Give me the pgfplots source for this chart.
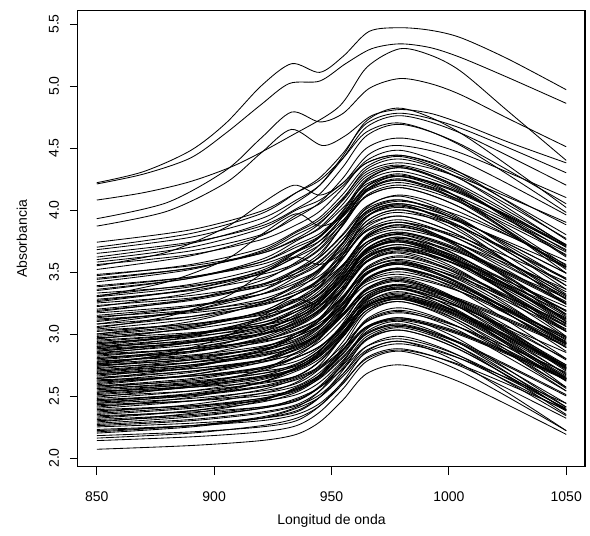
\documentclass[border=0pt]{standalone}
\usepackage{fontspec}
\setmainfont{Liberation Sans}
\usepackage{pgfplots}
\pgfplotsset{compat=1.18}
\begin{document}
\begin{tikzpicture}[sp/.style={black, line width=0.85pt, smooth}]
\useasboundingbox (-78pt,-69pt) rectangle (512pt,467pt);
\begin{axis}[
  at={(0pt,0pt)}, anchor=south west,
  scale only axis, width=507pt, height=456pt,
  xmin=842, xmax=1058, ymin=1.927, ymax=5.605,
  axis lines=box,
  axis line style={line width=1pt, black},
  tick align=outside, xtick pos=bottom, ytick pos=left,
  major tick length=8pt,
  every tick/.style={black, line width=0.8pt},
  xtick={850,900,950,1000,1050},
  ytick={2,2.5,3,3.5,4,4.5,5,5.5},
  /pgf/number format/assume math mode=true,
  xticklabel style={anchor=center, font=\fontsize{14}{16}\selectfont,
    /pgf/number format/1000 sep={}},
  yticklabel style={rotate=90, anchor=center, font=\fontsize{14}{16}\selectfont,
    /pgf/number format/.cd, fixed, fixed zerofill, precision=1},
  xticklabel shift=22pt,
  yticklabel shift=16pt,
  xlabel={Longitud de onda},
  ylabel={Absorbancia},
  xlabel style={at={(axis description cs:0.5,-0.1184)}, anchor=center, font=\fontsize{14}{16}\selectfont},
  ylabel style={at={(axis description cs:-0.1105,0.5)}, anchor=center, font=\fontsize{14}{16}\selectfont},
]
% upper curves with the 930 nm shoulder
\addplot[sp] coordinates {(850,4.22)(870,4.31)(890,4.48)(905,4.70)(920,5.00)(933,5.18)(945,5.11)(955,5.24)(966,5.44)(979,5.47)(992,5.45)(1005,5.39)(1025,5.22)(1050,4.97)};
\addplot[sp] coordinates {(850,4.21)(870,4.29)(890,4.42)(905,4.62)(920,4.85)(932,5.02)(945,5.04)(956,5.18)(967,5.30)(979,5.34)(992,5.31)(1005,5.23)(1025,5.07)(1050,4.86)};
\addplot[sp] coordinates {(850,4.08)(870,4.14)(890,4.23)(910,4.37)(932,4.59)(953,4.83)(965,5.15)(979,5.30)(992,5.25)(1005,5.12)(1025,4.80)(1050,4.40)};
\addplot[sp] coordinates {(850,3.93)(880,4.06)(905,4.32)(920,4.58)(933,4.79)(945,4.71)(955,4.78)(966,4.98)(979,5.06)(992,5.02)(1005,4.93)(1025,4.74)(1050,4.51)};
\addplot[sp] coordinates {(850,3.87)(880,3.99)(905,4.22)(920,4.46)(933,4.65)(946,4.52)(956,4.60)(967,4.76)(979,4.81)(992,4.78)(1005,4.70)(1025,4.55)(1050,4.38)};
\addplot[sp] coordinates {(850,3.55)(880,3.66)(905,3.86)(920,4.05)(934,4.20)(945,4.12)(955,4.22)(966,4.45)(979,4.52)(1005,4.40)(1050,3.96)};
\addplot[sp] coordinates {(850,3.30)(880,3.42)(905,3.60)(920,3.80)(935,3.97)(945,3.87)(955,3.95)(966,4.18)(979,4.27)(1005,4.14)(1050,3.70)};
\addplot[sp] coordinates {(850,3.05)(880,3.14)(905,3.30)(920,3.48)(934,3.62)(945,3.56)(955,3.66)(966,3.90)(979,3.98)(1005,3.86)(1050,3.45)};
\addplot[sp] coordinates {(850,2.75)(880,2.84)(905,2.98)(920,3.14)(934,3.28)(945,3.24)(955,3.36)(966,3.60)(979,3.68)(1005,3.55)(1050,3.12)};
% the main body of spectra
\addplot[sp] coordinates {(850,2.07)(890,2.10)(920,2.14)(935,2.19)(945,2.29)(955,2.47)(965,2.68)(980,2.75)(1005,2.61)(1050,2.19)};
\addplot[sp] coordinates {(850,2.14)(890,2.17)(920,2.21)(935,2.26)(945,2.37)(955,2.56)(965,2.78)(980,2.86)(1005,2.70)(1050,2.22)};
\addplot[sp] coordinates {(850,2.16)(890,2.20)(920,2.26)(935,2.32)(945,2.42)(955,2.60)(965,2.81)(980,2.88)(1005,2.74)(1050,2.32)};
\addplot[sp] coordinates {(850,2.18)(890,2.21)(920,2.25)(935,2.30)(945,2.42)(955,2.62)(965,2.86)(980,2.94)(1005,2.76)(1050,2.22)};
\addplot[sp] coordinates {(850,2.20)(890,2.25)(920,2.32)(935,2.40)(945,2.49)(955,2.66)(965,2.85)(980,2.92)(1005,2.80)(1050,2.44)};
\addplot[sp] coordinates {(850,2.21)(890,2.26)(920,2.33)(935,2.41)(945,2.54)(955,2.77)(965,3.04)(980,3.13)(1005,2.95)(1050,2.41)};
\addplot[sp] coordinates {(850,2.22)(890,2.26)(920,2.32)(935,2.38)(945,2.49)(955,2.68)(965,2.90)(980,2.98)(1005,2.82)(1050,2.34)};
\addplot[sp] coordinates {(850,2.23)(890,2.26)(920,2.30)(935,2.35)(945,2.44)(955,2.61)(965,2.80)(980,2.87)(1005,2.75)(1050,2.39)};
\addplot[sp] coordinates {(850,2.25)(890,2.28)(920,2.32)(935,2.37)(945,2.49)(955,2.71)(965,2.96)(980,3.05)(1005,2.89)(1050,2.41)};
\addplot[sp] coordinates {(850,2.26)(890,2.30)(920,2.36)(935,2.42)(945,2.51)(955,2.68)(965,2.87)(980,2.94)(1005,2.80)(1050,2.38)};
\addplot[sp] coordinates {(850,2.27)(890,2.31)(920,2.37)(935,2.43)(945,2.54)(955,2.73)(965,2.95)(980,3.03)(1005,2.87)(1050,2.39)};
\addplot[sp] coordinates {(850,2.28)(890,2.33)(920,2.40)(935,2.48)(945,2.57)(955,2.72)(965,2.90)(980,2.96)(1005,2.82)(1050,2.40)};
\addplot[sp] coordinates {(850,2.29)(890,2.36)(920,2.46)(935,2.57)(945,2.67)(955,2.85)(965,3.06)(980,3.13)(1005,3.01)(1050,2.65)};
\addplot[sp] coordinates {(850,2.30)(890,2.34)(920,2.40)(935,2.46)(945,2.58)(955,2.78)(965,3.02)(980,3.10)(1005,2.92)(1050,2.38)};
\addplot[sp] coordinates {(850,2.31)(890,2.35)(920,2.41)(935,2.47)(945,2.57)(955,2.75)(965,2.96)(980,3.03)(1005,2.87)(1050,2.39)};
\addplot[sp] coordinates {(850,2.32)(890,2.38)(920,2.47)(935,2.56)(945,2.66)(955,2.84)(965,3.05)(980,3.12)(1005,3.00)(1050,2.64)};
\addplot[sp] coordinates {(850,2.33)(890,2.38)(920,2.45)(935,2.53)(945,2.65)(955,2.87)(965,3.12)(980,3.21)(1005,3.05)(1050,2.57)};
\addplot[sp] coordinates {(850,2.34)(890,2.37)(920,2.41)(935,2.46)(945,2.57)(955,2.76)(965,2.98)(980,3.06)(1005,2.92)(1050,2.50)};
\addplot[sp] coordinates {(850,2.35)(890,2.40)(920,2.47)(935,2.55)(945,2.67)(955,2.87)(965,3.11)(980,3.19)(1005,3.05)(1050,2.63)};
\addplot[sp] coordinates {(850,2.36)(890,2.41)(920,2.48)(935,2.56)(945,2.65)(955,2.82)(965,3.01)(980,3.08)(1005,2.92)(1050,2.44)};
\addplot[sp] coordinates {(850,2.37)(890,2.43)(920,2.52)(935,2.61)(945,2.75)(955,2.99)(965,3.27)(980,3.37)(1005,3.21)(1050,2.73)};
\addplot[sp] coordinates {(850,2.38)(890,2.42)(920,2.48)(935,2.54)(945,2.67)(955,2.90)(965,3.17)(980,3.26)(1005,3.08)(1050,2.54)};
\addplot[sp] coordinates {(850,2.39)(890,2.42)(920,2.46)(935,2.51)(945,2.61)(955,2.79)(965,3.00)(980,3.07)(1005,2.89)(1050,2.35)};
\addplot[sp] coordinates {(850,2.40)(890,2.46)(920,2.55)(935,2.64)(945,2.73)(955,2.88)(965,3.06)(980,3.12)(1005,3.00)(1050,2.64)};
\addplot[sp] coordinates {(850,2.41)(890,2.49)(920,2.61)(935,2.73)(945,2.85)(955,3.05)(965,3.29)(980,3.37)(1005,3.17)(1050,2.57)};
\addplot[sp] coordinates {(850,2.42)(890,2.46)(920,2.52)(935,2.58)(945,2.69)(955,2.88)(965,3.10)(980,3.18)(1005,3.02)(1050,2.54)};
\addplot[sp] coordinates {(850,2.43)(890,2.46)(920,2.50)(935,2.55)(945,2.64)(955,2.81)(965,3.00)(980,3.07)(1005,2.93)(1050,2.51)};
\addplot[sp] coordinates {(850,2.44)(890,2.51)(920,2.61)(935,2.72)(945,2.82)(955,3.00)(965,3.21)(980,3.28)(1005,3.10)(1050,2.56)};
\addplot[sp] coordinates {(850,2.44)(890,2.48)(920,2.54)(935,2.60)(945,2.72)(955,2.94)(965,3.19)(980,3.28)(1005,3.12)(1050,2.64)};
\addplot[sp] coordinates {(850,2.45)(890,2.50)(920,2.57)(935,2.65)(945,2.74)(955,2.91)(965,3.10)(980,3.17)(1005,3.05)(1050,2.69)};
\addplot[sp] coordinates {(850,2.46)(890,2.51)(920,2.58)(935,2.66)(945,2.78)(955,2.98)(965,3.22)(980,3.30)(1005,3.16)(1050,2.74)};
\addplot[sp] coordinates {(850,2.46)(890,2.52)(920,2.61)(935,2.70)(945,2.80)(955,2.98)(965,3.19)(980,3.26)(1005,3.10)(1050,2.62)};
\addplot[sp] coordinates {(850,2.47)(890,2.51)(920,2.57)(935,2.63)(945,2.72)(955,2.87)(965,3.05)(980,3.11)(1005,2.99)(1050,2.63)};
\addplot[sp] coordinates {(850,2.48)(890,2.54)(920,2.63)(935,2.72)(945,2.83)(955,3.02)(965,3.24)(980,3.32)(1005,3.16)(1050,2.68)};
\addplot[sp] coordinates {(850,2.49)(890,2.58)(920,2.71)(935,2.85)(945,2.97)(955,3.19)(965,3.44)(980,3.53)(1005,3.39)(1050,2.97)};
\addplot[sp] coordinates {(850,2.50)(890,2.54)(920,2.60)(935,2.66)(945,2.78)(955,3.00)(965,3.25)(980,3.34)(1005,3.16)(1050,2.62)};
\addplot[sp] coordinates {(850,2.51)(890,2.57)(920,2.66)(935,2.75)(945,2.87)(955,3.07)(965,3.31)(980,3.39)(1005,3.21)(1050,2.67)};
\addplot[sp] coordinates {(850,2.52)(890,2.57)(920,2.64)(935,2.72)(945,2.82)(955,3.00)(965,3.21)(980,3.28)(1005,3.14)(1050,2.72)};
\addplot[sp] coordinates {(850,2.53)(890,2.60)(920,2.70)(935,2.81)(945,2.90)(955,3.05)(965,3.23)(980,3.29)(1005,3.13)(1050,2.65)};
\addplot[sp] coordinates {(850,2.53)(890,2.58)(920,2.65)(935,2.73)(945,2.86)(955,3.09)(965,3.36)(980,3.45)(1005,3.27)(1050,2.73)};
\addplot[sp] coordinates {(850,2.54)(890,2.57)(920,2.61)(935,2.66)(945,2.78)(955,2.98)(965,3.22)(980,3.30)(1005,3.16)(1050,2.74)};
\addplot[sp] coordinates {(850,2.55)(890,2.59)(920,2.65)(935,2.71)(945,2.82)(955,3.01)(965,3.23)(980,3.31)(1005,3.17)(1050,2.75)};
\addplot[sp] coordinates {(850,2.56)(890,2.61)(920,2.68)(935,2.76)(945,2.87)(955,3.06)(965,3.28)(980,3.36)(1005,3.18)(1050,2.64)};
\addplot[sp] coordinates {(850,2.56)(890,2.60)(920,2.66)(935,2.72)(945,2.84)(955,3.04)(965,3.28)(980,3.36)(1005,3.22)(1050,2.80)};
\addplot[sp] coordinates {(850,2.57)(890,2.63)(920,2.72)(935,2.81)(945,2.90)(955,3.07)(965,3.26)(980,3.33)(1005,3.21)(1050,2.85)};
\addplot[sp] coordinates {(850,2.58)(890,2.62)(920,2.68)(935,2.74)(945,2.84)(955,3.02)(965,3.23)(980,3.30)(1005,3.14)(1050,2.66)};
\addplot[sp] coordinates {(850,2.58)(890,2.64)(920,2.73)(935,2.82)(945,2.96)(955,3.20)(965,3.48)(980,3.58)(1005,3.40)(1050,2.86)};
\addplot[sp] coordinates {(850,2.59)(890,2.67)(920,2.79)(935,2.91)(945,3.00)(955,3.15)(965,3.33)(980,3.39)(1005,3.23)(1050,2.75)};
\addplot[sp] coordinates {(850,2.60)(890,2.67)(920,2.77)(935,2.88)(945,3.00)(955,3.20)(965,3.44)(980,3.52)(1005,3.38)(1050,2.96)};
\addplot[sp] coordinates {(850,2.61)(890,2.66)(920,2.73)(935,2.81)(945,2.90)(955,3.05)(965,3.23)(980,3.29)(1005,3.15)(1050,2.73)};
\addplot[sp] coordinates {(850,2.62)(890,2.66)(920,2.72)(935,2.78)(945,2.89)(955,3.08)(965,3.30)(980,3.38)(1005,3.26)(1050,2.90)};
\addplot[sp] coordinates {(850,2.62)(890,2.69)(920,2.79)(935,2.90)(945,3.02)(955,3.24)(965,3.49)(980,3.58)(1005,3.44)(1050,3.02)};
\addplot[sp] coordinates {(850,2.63)(890,2.66)(920,2.70)(935,2.75)(945,2.87)(955,3.07)(965,3.31)(980,3.39)(1005,3.27)(1050,2.91)};
\addplot[sp] coordinates {(850,2.64)(890,2.70)(920,2.79)(935,2.88)(945,2.98)(955,3.16)(965,3.37)(980,3.44)(1005,3.26)(1050,2.72)};
\addplot[sp] coordinates {(850,2.64)(890,2.73)(920,2.86)(935,3.00)(945,3.13)(955,3.36)(965,3.63)(980,3.72)(1005,3.56)(1050,3.08)};
\addplot[sp] coordinates {(850,2.65)(890,2.70)(920,2.77)(935,2.85)(945,2.97)(955,3.19)(965,3.44)(980,3.53)(1005,3.37)(1050,2.89)};
\addplot[sp] coordinates {(850,2.66)(890,2.74)(920,2.86)(935,2.98)(945,3.07)(955,3.24)(965,3.43)(980,3.50)(1005,3.36)(1050,2.94)};
\addplot[sp] coordinates {(850,2.67)(890,2.72)(920,2.79)(935,2.87)(945,2.97)(955,3.15)(965,3.36)(980,3.43)(1005,3.27)(1050,2.79)};
\addplot[sp] coordinates {(850,2.68)(890,2.72)(920,2.78)(935,2.84)(945,2.94)(955,3.12)(965,3.33)(980,3.40)(1005,3.28)(1050,2.92)};
\addplot[sp] coordinates {(850,2.68)(890,2.74)(920,2.83)(935,2.92)(945,3.03)(955,3.22)(965,3.44)(980,3.52)(1005,3.34)(1050,2.80)};
\addplot[sp] coordinates {(850,2.69)(890,2.75)(920,2.84)(935,2.93)(945,3.05)(955,3.25)(965,3.49)(980,3.57)(1005,3.41)(1050,2.93)};
\addplot[sp] coordinates {(850,2.70)(890,2.75)(920,2.82)(935,2.90)(945,2.99)(955,3.16)(965,3.35)(980,3.42)(1005,3.24)(1050,2.70)};
\addplot[sp] coordinates {(850,2.70)(890,2.77)(920,2.87)(935,2.98)(945,3.12)(955,3.38)(965,3.68)(980,3.78)(1005,3.58)(1050,2.98)};
\addplot[sp] coordinates {(850,2.71)(890,2.77)(920,2.86)(935,2.95)(945,3.07)(955,3.29)(965,3.54)(980,3.63)(1005,3.49)(1050,3.07)};
\addplot[sp] coordinates {(850,2.72)(890,2.79)(920,2.89)(935,3.00)(945,3.11)(955,3.30)(965,3.52)(980,3.60)(1005,3.46)(1050,3.04)};
\addplot[sp] coordinates {(850,2.73)(890,2.77)(920,2.83)(935,2.89)(945,3.01)(955,3.21)(965,3.45)(980,3.53)(1005,3.37)(1050,2.89)};
\addplot[sp] coordinates {(850,2.74)(890,2.80)(920,2.89)(935,2.98)(945,3.07)(955,3.22)(965,3.40)(980,3.46)(1005,3.34)(1050,2.98)};
\addplot[sp] coordinates {(850,2.74)(890,2.82)(920,2.94)(935,3.06)(945,3.19)(955,3.42)(965,3.69)(980,3.78)(1005,3.62)(1050,3.14)};
\addplot[sp] coordinates {(850,2.75)(890,2.79)(920,2.85)(935,2.91)(945,3.00)(955,3.17)(965,3.36)(980,3.43)(1005,3.25)(1050,2.71)};
\addplot[sp] coordinates {(850,2.76)(890,2.81)(920,2.88)(935,2.96)(945,3.07)(955,3.26)(965,3.48)(980,3.56)(1005,3.40)(1050,2.92)};
\addplot[sp] coordinates {(850,2.76)(890,2.86)(920,3.01)(935,3.16)(945,3.28)(955,3.48)(965,3.72)(980,3.80)(1005,3.66)(1050,3.24)};
\addplot[sp] coordinates {(850,2.77)(890,2.85)(920,2.97)(935,3.09)(945,3.19)(955,3.37)(965,3.58)(980,3.65)(1005,3.47)(1050,2.93)};
\addplot[sp] coordinates {(850,2.78)(890,2.82)(920,2.88)(935,2.94)(945,3.06)(955,3.28)(965,3.53)(980,3.62)(1005,3.48)(1050,3.06)};
\addplot[sp] coordinates {(850,2.78)(890,2.83)(920,2.90)(935,2.98)(945,3.11)(955,3.34)(965,3.61)(980,3.70)(1005,3.54)(1050,3.06)};
\addplot[sp] coordinates {(850,2.79)(890,2.86)(920,2.96)(935,3.07)(945,3.18)(955,3.37)(965,3.59)(980,3.67)(1005,3.55)(1050,3.19)};
\addplot[sp] coordinates {(850,2.80)(890,2.86)(920,2.95)(935,3.04)(945,3.13)(955,3.30)(965,3.49)(980,3.56)(1005,3.40)(1050,2.92)};
\addplot[sp] coordinates {(850,2.80)(890,2.88)(920,3.00)(935,3.12)(945,3.26)(955,3.50)(965,3.78)(980,3.88)(1005,3.70)(1050,3.16)};
\addplot[sp] coordinates {(850,2.81)(890,2.86)(920,2.93)(935,3.01)(945,3.11)(955,3.29)(965,3.50)(980,3.57)(1005,3.45)(1050,3.09)};
\addplot[sp] coordinates {(850,2.82)(890,2.89)(920,2.99)(935,3.10)(945,3.22)(955,3.42)(965,3.66)(980,3.74)(1005,3.56)(1050,3.02)};
\addplot[sp] coordinates {(850,2.83)(890,2.88)(920,2.95)(935,3.03)(945,3.13)(955,3.31)(965,3.52)(980,3.59)(1005,3.43)(1050,2.95)};
\addplot[sp] coordinates {(850,2.84)(890,2.88)(920,2.94)(935,3.00)(945,3.09)(955,3.24)(965,3.42)(980,3.48)(1005,3.34)(1050,2.92)};
\addplot[sp] coordinates {(850,2.84)(890,2.93)(920,3.06)(935,3.20)(945,3.32)(955,3.54)(965,3.79)(980,3.88)(1005,3.72)(1050,3.24)};
\addplot[sp] coordinates {(850,2.85)(890,2.91)(920,3.00)(935,3.09)(945,3.20)(955,3.39)(965,3.61)(980,3.69)(1005,3.55)(1050,3.13)};
\addplot[sp] coordinates {(850,2.86)(890,2.94)(920,3.06)(935,3.18)(945,3.27)(955,3.44)(965,3.63)(980,3.70)(1005,3.58)(1050,3.22)};
\addplot[sp] coordinates {(850,2.86)(890,2.93)(920,3.03)(935,3.14)(945,3.28)(955,3.52)(965,3.80)(980,3.90)(1005,3.70)(1050,3.10)};
\addplot[sp] coordinates {(850,2.87)(890,2.93)(920,3.02)(935,3.11)(945,3.23)(955,3.43)(965,3.67)(980,3.75)(1005,3.61)(1050,3.19)};
\addplot[sp] coordinates {(850,2.88)(890,2.93)(920,3.00)(935,3.08)(945,3.20)(955,3.42)(965,3.67)(980,3.76)(1005,3.60)(1050,3.12)};
\addplot[sp] coordinates {(850,2.88)(890,2.98)(920,3.13)(935,3.28)(945,3.41)(955,3.64)(965,3.91)(980,4.00)(1005,3.86)(1050,3.44)};
\addplot[sp] coordinates {(850,2.89)(890,2.95)(920,3.04)(935,3.13)(945,3.23)(955,3.41)(965,3.62)(980,3.69)(1005,3.51)(1050,2.97)};
\addplot[sp] coordinates {(850,2.90)(890,2.94)(920,3.00)(935,3.06)(945,3.17)(955,3.36)(965,3.58)(980,3.66)(1005,3.50)(1050,3.02)};
\addplot[sp] coordinates {(850,2.90)(890,2.97)(920,3.07)(935,3.18)(945,3.30)(955,3.50)(965,3.74)(980,3.82)(1005,3.68)(1050,3.26)};
\addplot[sp] coordinates {(850,2.91)(890,2.99)(920,3.11)(935,3.23)(945,3.32)(955,3.49)(965,3.68)(980,3.75)(1005,3.57)(1050,3.03)};
\addplot[sp] coordinates {(850,2.92)(890,2.99)(920,3.09)(935,3.20)(945,3.29)(955,3.46)(965,3.65)(980,3.72)(1005,3.58)(1050,3.16)};
\addplot[sp] coordinates {(850,2.92)(890,3.00)(920,3.12)(935,3.24)(945,3.38)(955,3.64)(965,3.94)(980,4.04)(1005,3.86)(1050,3.32)};
\addplot[sp] coordinates {(850,2.93)(890,2.98)(920,3.05)(935,3.13)(945,3.25)(955,3.45)(965,3.69)(980,3.77)(1005,3.65)(1050,3.29)};
\addplot[sp] coordinates {(850,2.94)(890,3.00)(920,3.09)(935,3.18)(945,3.28)(955,3.46)(965,3.67)(980,3.74)(1005,3.58)(1050,3.10)};
\addplot[sp] coordinates {(850,2.95)(890,3.00)(920,3.07)(935,3.15)(945,3.26)(955,3.45)(965,3.67)(980,3.75)(1005,3.59)(1050,3.11)};
\addplot[sp] coordinates {(850,2.96)(890,3.05)(920,3.18)(935,3.32)(945,3.41)(955,3.56)(965,3.74)(980,3.80)(1005,3.62)(1050,3.08)};
\addplot[sp] coordinates {(850,2.96)(890,3.05)(920,3.18)(935,3.32)(945,3.45)(955,3.68)(965,3.95)(980,4.04)(1005,3.84)(1050,3.24)};
\addplot[sp] coordinates {(850,2.97)(890,3.01)(920,3.07)(935,3.13)(945,3.25)(955,3.47)(965,3.72)(980,3.81)(1005,3.67)(1050,3.25)};
\addplot[sp] coordinates {(850,2.98)(890,3.04)(920,3.13)(935,3.22)(945,3.33)(955,3.52)(965,3.74)(980,3.82)(1005,3.66)(1050,3.18)};
\addplot[sp] coordinates {(850,2.99)(890,3.06)(920,3.16)(935,3.27)(945,3.39)(955,3.61)(965,3.86)(980,3.95)(1005,3.79)(1050,3.31)};
\addplot[sp] coordinates {(850,3.00)(890,3.07)(920,3.17)(935,3.28)(945,3.38)(955,3.56)(965,3.77)(980,3.84)(1005,3.72)(1050,3.36)};
\addplot[sp] coordinates {(850,3.00)(890,3.10)(920,3.25)(935,3.40)(945,3.52)(955,3.74)(965,3.99)(980,4.08)(1005,3.92)(1050,3.44)};
\addplot[sp] coordinates {(850,3.02)(890,3.08)(920,3.17)(935,3.26)(945,3.37)(955,3.56)(965,3.78)(980,3.86)(1005,3.72)(1050,3.30)};
\addplot[sp] coordinates {(850,3.03)(890,3.08)(920,3.15)(935,3.23)(945,3.35)(955,3.55)(965,3.79)(980,3.87)(1005,3.69)(1050,3.15)};
\addplot[sp] coordinates {(850,3.04)(890,3.12)(920,3.24)(935,3.36)(945,3.50)(955,3.74)(965,4.02)(980,4.12)(1005,3.98)(1050,3.56)};
\addplot[sp] coordinates {(850,3.06)(890,3.14)(920,3.26)(935,3.38)(945,3.47)(955,3.64)(965,3.83)(980,3.90)(1005,3.76)(1050,3.34)};
\addplot[sp] coordinates {(850,3.08)(890,3.14)(920,3.23)(935,3.32)(945,3.43)(955,3.62)(965,3.84)(980,3.92)(1005,3.76)(1050,3.28)};
\addplot[sp] coordinates {(850,3.08)(890,3.19)(920,3.35)(935,3.52)(945,3.65)(955,3.88)(965,4.15)(980,4.24)(1005,4.06)(1050,3.52)};
\addplot[sp] coordinates {(850,3.10)(890,3.19)(920,3.32)(935,3.46)(945,3.56)(955,3.74)(965,3.95)(980,4.02)(1005,3.90)(1050,3.54)};
\addplot[sp] coordinates {(850,3.11)(890,3.18)(920,3.28)(935,3.39)(945,3.51)(955,3.71)(965,3.95)(980,4.03)(1005,3.87)(1050,3.39)};
\addplot[sp] coordinates {(850,3.12)(890,3.17)(920,3.24)(935,3.32)(945,3.44)(955,3.66)(965,3.91)(980,4.00)(1005,3.82)(1050,3.28)};
\addplot[sp] coordinates {(850,3.13)(890,3.22)(920,3.35)(935,3.49)(945,3.63)(955,3.89)(965,4.19)(980,4.29)(1005,4.09)(1050,3.49)};
\addplot[sp] coordinates {(850,3.14)(890,3.19)(920,3.26)(935,3.34)(945,3.44)(955,3.62)(965,3.83)(980,3.90)(1005,3.78)(1050,3.42)};
\addplot[sp] coordinates {(850,3.15)(890,3.22)(920,3.32)(935,3.43)(945,3.52)(955,3.69)(965,3.88)(980,3.95)(1005,3.79)(1050,3.31)};
\addplot[sp] coordinates {(850,3.17)(890,3.23)(920,3.32)(935,3.41)(945,3.53)(955,3.73)(965,3.97)(980,4.05)(1005,3.91)(1050,3.49)};
\addplot[sp] coordinates {(850,3.18)(890,3.28)(920,3.43)(935,3.58)(945,3.72)(955,3.96)(965,4.24)(980,4.34)(1005,4.18)(1050,3.70)};
\addplot[sp] coordinates {(850,3.19)(890,3.27)(920,3.39)(935,3.51)(945,3.62)(955,3.81)(965,4.03)(980,4.11)(1005,3.93)(1050,3.39)};
\addplot[sp] coordinates {(850,3.20)(890,3.28)(920,3.40)(935,3.52)(945,3.62)(955,3.80)(965,4.01)(980,4.08)(1005,3.90)(1050,3.36)};
\addplot[sp] coordinates {(850,3.22)(890,3.33)(920,3.49)(935,3.66)(945,3.78)(955,4.00)(965,4.25)(980,4.34)(1005,4.16)(1050,3.62)};
\addplot[sp] coordinates {(850,3.23)(890,3.29)(920,3.38)(935,3.47)(945,3.58)(955,3.77)(965,3.99)(980,4.07)(1005,3.95)(1050,3.59)};
\addplot[sp] coordinates {(850,3.25)(890,3.31)(920,3.40)(935,3.49)(945,3.59)(955,3.77)(965,3.98)(980,4.05)(1005,3.91)(1050,3.49)};
\addplot[sp] coordinates {(850,3.26)(890,3.36)(920,3.51)(935,3.66)(945,3.75)(955,3.92)(965,4.11)(980,4.18)(1005,4.02)(1050,3.54)};
\addplot[sp] coordinates {(850,3.27)(890,3.36)(920,3.49)(935,3.63)(945,3.75)(955,3.95)(965,4.19)(980,4.27)(1005,4.13)(1050,3.71)};
\addplot[sp] coordinates {(850,3.28)(890,3.35)(920,3.45)(935,3.56)(945,3.68)(955,3.88)(965,4.12)(980,4.20)(1005,4.06)(1050,3.64)};
\addplot[sp] coordinates {(850,3.30)(890,3.38)(920,3.50)(935,3.62)(945,3.72)(955,3.90)(965,4.11)(980,4.18)(1005,4.02)(1050,3.54)};
\addplot[sp] coordinates {(850,3.31)(890,3.40)(920,3.53)(935,3.67)(945,3.79)(955,3.99)(965,4.23)(980,4.31)(1005,4.15)(1050,3.67)};
\addplot[sp] coordinates {(850,3.33)(890,3.39)(920,3.48)(935,3.57)(945,3.69)(955,3.91)(965,4.16)(980,4.25)(1005,4.07)(1050,3.53)};
\addplot[sp] coordinates {(850,3.35)(890,3.45)(920,3.60)(935,3.75)(945,3.86)(955,4.05)(965,4.27)(980,4.35)(1005,4.17)(1050,3.63)};
\addplot[sp] coordinates {(850,3.36)(890,3.45)(920,3.58)(935,3.72)(945,3.81)(955,3.98)(965,4.17)(980,4.24)(1005,4.10)(1050,3.68)};
\addplot[sp] coordinates {(850,3.38)(890,3.46)(920,3.58)(935,3.70)(945,3.79)(955,3.96)(965,4.15)(980,4.22)(1005,4.08)(1050,3.66)};
\addplot[sp] coordinates {(850,3.39)(890,3.46)(920,3.56)(935,3.67)(945,3.78)(955,3.97)(965,4.19)(980,4.27)(1005,4.09)(1050,3.55)};
\addplot[sp] coordinates {(850,3.42)(890,3.52)(920,3.67)(935,3.82)(945,3.92)(955,4.10)(965,4.31)(980,4.38)(1005,4.26)(1050,3.90)};
\addplot[sp] coordinates {(850,3.44)(890,3.53)(920,3.66)(935,3.80)(945,3.90)(955,4.08)(965,4.29)(980,4.36)(1005,4.20)(1050,3.72)};
\addplot[sp] coordinates {(850,3.45)(890,3.53)(920,3.65)(935,3.77)(945,3.89)(955,4.09)(965,4.33)(980,4.41)(1005,4.25)(1050,3.77)};
\addplot[sp] coordinates {(850,3.47)(890,3.56)(920,3.69)(935,3.83)(945,3.94)(955,4.13)(965,4.35)(980,4.43)(1005,4.25)(1050,3.71)};
\addplot[sp] coordinates {(850,3.48)(890,3.55)(920,3.65)(935,3.76)(945,3.85)(955,4.02)(965,4.21)(980,4.28)(1005,4.14)(1050,3.72)};
\addplot[sp] coordinates {(850,3.52)(890,3.63)(920,3.79)(935,3.96)(945,4.05)(955,4.20)(965,4.38)(980,4.44)(1005,4.28)(1050,3.80)};
\addplot[sp] coordinates {(850,3.56)(890,3.64)(920,3.76)(935,3.88)(945,3.99)(955,4.18)(965,4.40)(980,4.48)(1005,4.30)(1050,3.76)};
\addplot[sp] coordinates {(850,3.58)(890,3.67)(920,3.80)(935,3.94)(945,4.06)(955,4.26)(965,4.50)(980,4.58)(1005,4.46)(1050,4.10)};
\addplot[sp] coordinates {(850,3.60)(890,3.70)(920,3.85)(935,4.00)(945,4.08)(955,4.22)(965,4.38)(980,4.44)(1005,4.30)(1050,3.88)};
\addplot[sp] coordinates {(850,3.62)(890,3.73)(920,3.89)(935,4.06)(945,4.20)(955,4.44)(965,4.72)(980,4.82)(1005,4.62)(1050,4.02)};
\addplot[sp] coordinates {(850,3.65)(890,3.74)(920,3.87)(935,4.01)(945,4.13)(955,4.35)(965,4.60)(980,4.69)(1005,4.53)(1050,4.05)};
\addplot[sp] coordinates {(850,3.68)(890,3.78)(920,3.93)(935,4.08)(945,4.20)(955,4.42)(965,4.67)(980,4.76)(1005,4.62)(1050,4.20)};
\addplot[sp] coordinates {(850,3.70)(890,3.81)(920,3.97)(935,4.14)(945,4.26)(955,4.46)(965,4.70)(980,4.78)(1005,4.66)(1050,4.30)};
\addplot[sp] coordinates {(850,3.74)(890,3.84)(920,3.99)(935,4.14)(945,4.24)(955,4.42)(965,4.63)(980,4.70)(1005,4.52)(1050,3.98)};
\end{axis}
\draw[line width=1pt] (current axis.south west) rectangle (current axis.north east);
\end{tikzpicture}
\end{document}
